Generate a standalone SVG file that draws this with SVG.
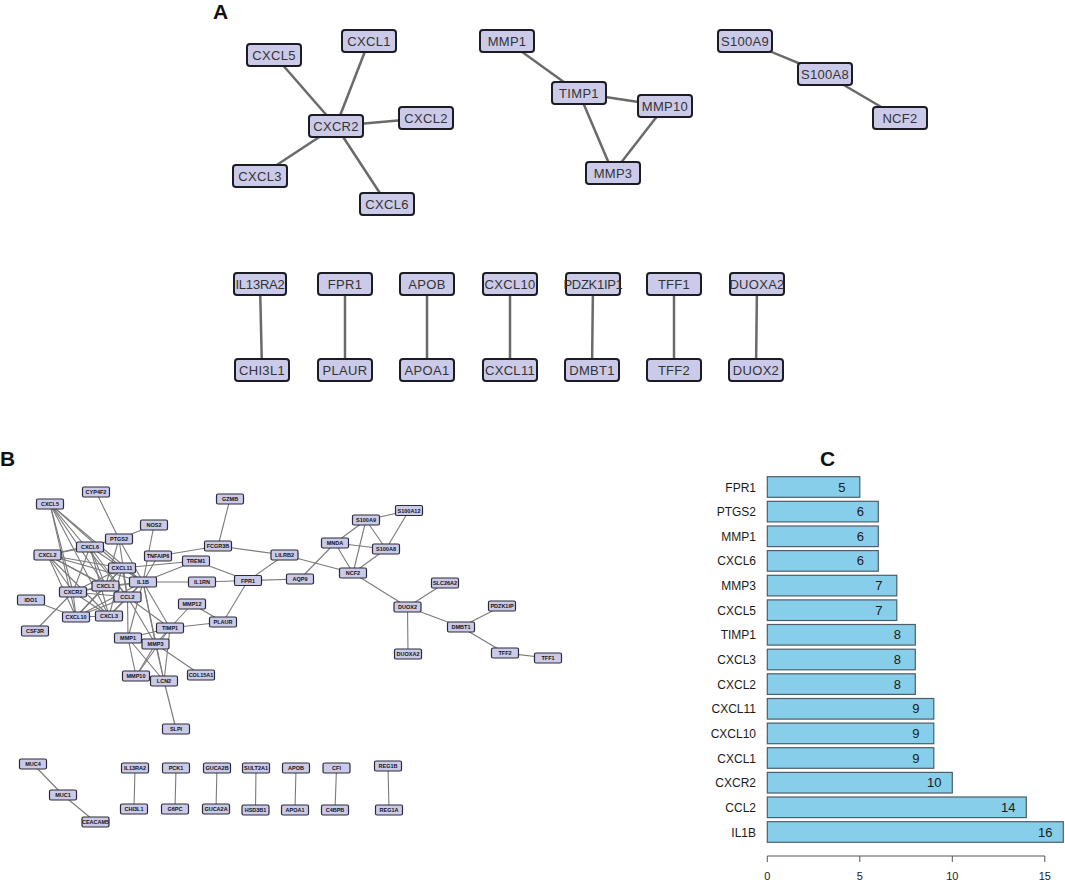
<svg xmlns="http://www.w3.org/2000/svg" width="1065" height="882" viewBox="0 0 1065 882">
<style>
.bg{fill:#fff}
.lbl{font-family:"Liberation Sans",Arial,sans-serif;font-weight:bold;font-size:21px;fill:#111}
.na rect{fill:#cbcbe9;stroke:#1c1c24;stroke-width:2}
.na text{font-family:"Liberation Sans",Arial,sans-serif;font-size:13px;fill:#333;text-anchor:middle;letter-spacing:0.3px}
.nb rect{fill:#cbcbe9;stroke:#2a2a38;stroke-width:1.2}
.nb text{font-family:"Liberation Sans",Arial,sans-serif;font-size:5.5px;font-weight:bold;fill:#111;text-anchor:middle}
.ea line{stroke:#6a6a6a;stroke-width:2.5}
.eb line{stroke:#7a7a7a;stroke-width:1.1}
.bar{fill:#87ceeb;stroke:#4f5d68;stroke-width:1.2}
.val{font-family:"Liberation Sans",Arial,sans-serif;font-size:13px;fill:#1a1a1a;text-anchor:middle}
.gn{font-family:"Liberation Sans",Arial,sans-serif;font-size:12px;fill:#1a1a1a;text-anchor:end}
.tk{font-family:"Liberation Sans",Arial,sans-serif;font-size:11px;fill:#1a1a1a;text-anchor:middle}
.ax{stroke:#555;stroke-width:1;fill:none}
</style>
<rect class="bg" x="0" y="0" width="1065" height="882"/>
<text class="lbl" x="213" y="19">A</text>
<text class="lbl" x="0" y="466">B</text>
<text class="lbl" x="820" y="466">C</text>

<g id="edges-a" class="ea">
<line x1="336" y1="126" x2="274" y2="55"/>
<line x1="336" y1="126" x2="369" y2="41"/>
<line x1="336" y1="126" x2="426" y2="118"/>
<line x1="336" y1="126" x2="260" y2="176"/>
<line x1="336" y1="126" x2="387" y2="204"/>
<line x1="507" y1="41" x2="579" y2="93"/>
<line x1="579" y1="93" x2="665" y2="106"/>
<line x1="579" y1="93" x2="613" y2="173"/>
<line x1="665" y1="106" x2="613" y2="173"/>
<line x1="745" y1="41" x2="825" y2="74"/>
<line x1="825" y1="74" x2="900" y2="118"/>
<line x1="260" y1="284" x2="262" y2="370"/>
<line x1="345" y1="284" x2="345" y2="370"/>
<line x1="427" y1="284" x2="427" y2="370"/>
<line x1="510" y1="284" x2="510" y2="370"/>
<line x1="593" y1="284" x2="592" y2="370"/>
<line x1="674" y1="284" x2="674" y2="370"/>
<line x1="757" y1="284" x2="756" y2="370"/>
</g>

<g id="a-cxcl5" class="na" transform="translate(274,55)"><rect x="-27" y="-11" width="54" height="22" rx="3"/><text y="4.5">CXCL5</text></g>
<g id="a-cxcl1" class="na" transform="translate(369,41)"><rect x="-27" y="-11" width="54" height="22" rx="3"/><text y="4.5">CXCL1</text></g>
<g id="a-cxcr2" class="na" transform="translate(336,126)"><rect x="-27" y="-11" width="54" height="22" rx="3"/><text y="4.5">CXCR2</text></g>
<g id="a-cxcl2" class="na" transform="translate(426,118)"><rect x="-27" y="-11" width="54" height="22" rx="3"/><text y="4.5">CXCL2</text></g>
<g id="a-cxcl3" class="na" transform="translate(260,176)"><rect x="-27" y="-11" width="54" height="22" rx="3"/><text y="4.5">CXCL3</text></g>
<g id="a-cxcl6" class="na" transform="translate(387,204)"><rect x="-27" y="-11" width="54" height="22" rx="3"/><text y="4.5">CXCL6</text></g>
<g id="a-mmp1" class="na" transform="translate(507,41)"><rect x="-27" y="-11" width="54" height="22" rx="3"/><text y="4.5">MMP1</text></g>
<g id="a-timp1" class="na" transform="translate(579,93)"><rect x="-27" y="-11" width="54" height="22" rx="3"/><text y="4.5">TIMP1</text></g>
<g id="a-mmp10" class="na" transform="translate(665,106)"><rect x="-27" y="-11" width="54" height="22" rx="3"/><text y="4.5">MMP10</text></g>
<g id="a-mmp3" class="na" transform="translate(613,173)"><rect x="-27" y="-11" width="54" height="22" rx="3"/><text y="4.5">MMP3</text></g>
<g id="a-s100a9" class="na" transform="translate(745,41)"><rect x="-27" y="-11" width="54" height="22" rx="3"/><text y="4.5">S100A9</text></g>
<g id="a-s100a8" class="na" transform="translate(825,74)"><rect x="-27" y="-11" width="54" height="22" rx="3"/><text y="4.5">S100A8</text></g>
<g id="a-ncf2" class="na" transform="translate(900,118)"><rect x="-27" y="-11" width="54" height="22" rx="3"/><text y="4.5">NCF2</text></g>
<g id="a-il13ra2" class="na" transform="translate(260,284)"><rect x="-26" y="-11" width="52" height="22" rx="3"/><text y="4.5" style="letter-spacing:-0.2px">IL13RA2</text></g>
<g id="a-fpr1" class="na" transform="translate(345,284)"><rect x="-27" y="-11" width="54" height="22" rx="3"/><text y="4.5">FPR1</text></g>
<g id="a-apob" class="na" transform="translate(427,284)"><rect x="-27" y="-11" width="54" height="22" rx="3"/><text y="4.5">APOB</text></g>
<g id="a-cxcl10" class="na" transform="translate(510,284)"><rect x="-27" y="-11" width="54" height="22" rx="3"/><text y="4.5">CXCL10</text></g>
<g id="a-pdzk1ip1" class="na" transform="translate(593,284)"><rect x="-27" y="-11" width="54" height="22" rx="3"/><text y="4.5" style="letter-spacing:-0.3px">PDZK1IP1</text></g>
<g id="a-tff1" class="na" transform="translate(674,284)"><rect x="-27" y="-11" width="54" height="22" rx="3"/><text y="4.5">TFF1</text></g>
<g id="a-duoxa2" class="na" transform="translate(757,284)"><rect x="-27" y="-11" width="54" height="22" rx="3"/><text y="4.5">DUOXA2</text></g>
<g id="a-chi3l1" class="na" transform="translate(262,370)"><rect x="-27" y="-11" width="54" height="22" rx="3"/><text y="4.5">CHI3L1</text></g>
<g id="a-plaur" class="na" transform="translate(345,370)"><rect x="-27" y="-11" width="54" height="22" rx="3"/><text y="4.5">PLAUR</text></g>
<g id="a-apoa1" class="na" transform="translate(427,370)"><rect x="-27" y="-11" width="54" height="22" rx="3"/><text y="4.5">APOA1</text></g>
<g id="a-cxcl11" class="na" transform="translate(510,370)"><rect x="-27" y="-11" width="54" height="22" rx="3"/><text y="4.5">CXCL11</text></g>
<g id="a-dmbt1" class="na" transform="translate(592,370)"><rect x="-27" y="-11" width="54" height="22" rx="3"/><text y="4.5">DMBT1</text></g>
<g id="a-tff2" class="na" transform="translate(674,370)"><rect x="-27" y="-11" width="54" height="22" rx="3"/><text y="4.5">TFF2</text></g>
<g id="a-duox2" class="na" transform="translate(756,370)"><rect x="-27" y="-11" width="54" height="22" rx="3"/><text y="4.5">DUOX2</text></g>

<g id="edges-b" class="eb">
<line x1="119" y1="539" x2="96" y2="492"/>
<line x1="119" y1="539" x2="154" y2="525"/>
<line x1="154" y1="525" x2="143" y2="582"/>
<line x1="158" y1="556" x2="143" y2="582"/>
<line x1="158" y1="556" x2="218" y2="546"/>
<line x1="230" y1="499" x2="218" y2="546"/>
<line x1="218" y1="546" x2="284.5" y2="555"/>
<line x1="196" y1="561" x2="143" y2="582"/>
<line x1="196" y1="561" x2="122" y2="568"/>
<line x1="196" y1="561" x2="248" y2="580.5"/>
<line x1="143" y1="582" x2="202" y2="582"/>
<line x1="202" y1="582" x2="248" y2="580.5"/>
<line x1="248" y1="580.5" x2="284.5" y2="555"/>
<line x1="248" y1="580.5" x2="300" y2="579"/>
<line x1="248" y1="580.5" x2="223" y2="622"/>
<line x1="284.5" y1="555" x2="353" y2="573"/>
<line x1="300" y1="579" x2="335" y2="543"/>
<line x1="335" y1="543" x2="366" y2="520"/>
<line x1="335" y1="543" x2="386" y2="549"/>
<line x1="335" y1="543" x2="353" y2="573"/>
<line x1="366" y1="520" x2="409" y2="510.5"/>
<line x1="366" y1="520" x2="386" y2="549"/>
<line x1="366" y1="520" x2="353" y2="573"/>
<line x1="409" y1="510.5" x2="386" y2="549"/>
<line x1="386" y1="549" x2="353" y2="573"/>
<line x1="353" y1="573" x2="407.5" y2="607"/>
<line x1="407.5" y1="607" x2="445" y2="583"/>
<line x1="407.5" y1="607" x2="461" y2="627"/>
<line x1="407.5" y1="607" x2="408" y2="654"/>
<line x1="461" y1="627" x2="502" y2="606"/>
<line x1="461" y1="627" x2="505" y2="653"/>
<line x1="505" y1="653" x2="548" y2="658"/>
<line x1="223" y1="622" x2="192" y2="604"/>
<line x1="223" y1="622" x2="170" y2="628"/>
<line x1="192" y1="604" x2="170" y2="628"/>
<line x1="170" y1="628" x2="128" y2="638"/>
<line x1="170" y1="628" x2="155.5" y2="644"/>
<line x1="170" y1="628" x2="136" y2="676"/>
<line x1="170" y1="628" x2="164" y2="681"/>
<line x1="170" y1="628" x2="143" y2="582"/>
<line x1="170" y1="628" x2="127.5" y2="597"/>
<line x1="155.5" y1="644" x2="128" y2="638"/>
<line x1="155.5" y1="644" x2="136" y2="676"/>
<line x1="155.5" y1="644" x2="164" y2="681"/>
<line x1="155.5" y1="644" x2="201" y2="675"/>
<line x1="155.5" y1="644" x2="143" y2="582"/>
<line x1="155.5" y1="644" x2="127.5" y2="597"/>
<line x1="128" y1="638" x2="136" y2="676"/>
<line x1="128" y1="638" x2="164" y2="681"/>
<line x1="128" y1="638" x2="143" y2="582"/>
<line x1="128" y1="638" x2="127.5" y2="597"/>
<line x1="164" y1="681" x2="176" y2="729"/>
<line x1="164" y1="681" x2="143" y2="582"/>
<line x1="31" y1="600" x2="76" y2="617"/>
<line x1="35" y1="631" x2="73" y2="592"/>
<line x1="50" y1="504" x2="73" y2="592"/>
<line x1="50" y1="504" x2="105.5" y2="586"/>
<line x1="50" y1="504" x2="109" y2="616"/>
<line x1="50" y1="504" x2="76" y2="617"/>
<line x1="50" y1="504" x2="127.5" y2="597"/>
<line x1="50" y1="504" x2="143" y2="582"/>
<line x1="50" y1="504" x2="122" y2="568"/>
<line x1="90" y1="547" x2="47.5" y2="555"/>
<line x1="90" y1="547" x2="73" y2="592"/>
<line x1="90" y1="547" x2="105.5" y2="586"/>
<line x1="90" y1="547" x2="143" y2="582"/>
<line x1="90" y1="547" x2="127.5" y2="597"/>
<line x1="90" y1="547" x2="109" y2="616"/>
<line x1="47.5" y1="555" x2="73" y2="592"/>
<line x1="47.5" y1="555" x2="105.5" y2="586"/>
<line x1="47.5" y1="555" x2="122" y2="568"/>
<line x1="47.5" y1="555" x2="143" y2="582"/>
<line x1="47.5" y1="555" x2="127.5" y2="597"/>
<line x1="47.5" y1="555" x2="109" y2="616"/>
<line x1="47.5" y1="555" x2="76" y2="617"/>
<line x1="47.5" y1="555" x2="119" y2="539"/>
<line x1="73" y1="592" x2="105.5" y2="586"/>
<line x1="73" y1="592" x2="109" y2="616"/>
<line x1="73" y1="592" x2="76" y2="617"/>
<line x1="73" y1="592" x2="122" y2="568"/>
<line x1="73" y1="592" x2="143" y2="582"/>
<line x1="73" y1="592" x2="127.5" y2="597"/>
<line x1="105.5" y1="586" x2="143" y2="582"/>
<line x1="105.5" y1="586" x2="127.5" y2="597"/>
<line x1="105.5" y1="586" x2="122" y2="568"/>
<line x1="105.5" y1="586" x2="76" y2="617"/>
<line x1="105.5" y1="586" x2="119" y2="539"/>
<line x1="76" y1="617" x2="122" y2="568"/>
<line x1="76" y1="617" x2="127.5" y2="597"/>
<line x1="76" y1="617" x2="143" y2="582"/>
<line x1="76" y1="617" x2="109" y2="616"/>
<line x1="122" y1="568" x2="143" y2="582"/>
<line x1="122" y1="568" x2="127.5" y2="597"/>
<line x1="122" y1="568" x2="109" y2="616"/>
<line x1="109" y1="616" x2="143" y2="582"/>
<line x1="109" y1="616" x2="127.5" y2="597"/>
<line x1="127.5" y1="597" x2="143" y2="582"/>
<line x1="119" y1="539" x2="143" y2="582"/>
<line x1="119" y1="539" x2="127.5" y2="597"/>
<line x1="33" y1="764" x2="63" y2="795"/>
<line x1="63" y1="795" x2="95.5" y2="822"/>
<line x1="135" y1="768" x2="134" y2="809"/>
<line x1="176" y1="768" x2="175" y2="809"/>
<line x1="217" y1="768" x2="216" y2="809"/>
<line x1="256" y1="768" x2="255.5" y2="810"/>
<line x1="296" y1="768" x2="295" y2="810"/>
<line x1="336.5" y1="768" x2="335" y2="810"/>
<line x1="388" y1="766" x2="389" y2="810"/>
</g>

<g id="b-cyp4f2" class="nb" transform="translate(96,492)"><rect x="-13.5" y="-5" width="27" height="10" rx="1.5"/><text y="2">CYP4F2</text></g>
<g id="b-cxcl5" class="nb" transform="translate(50,504)"><rect x="-13.5" y="-5" width="27" height="10" rx="1.5"/><text y="2">CXCL5</text></g>
<g id="b-nos2" class="nb" transform="translate(154,525)"><rect x="-13.5" y="-5" width="27" height="10" rx="1.5"/><text y="2">NOS2</text></g>
<g id="b-ptgs2" class="nb" transform="translate(119,539)"><rect x="-13.5" y="-5" width="27" height="10" rx="1.5"/><text y="2">PTGS2</text></g>
<g id="b-cxcl6" class="nb" transform="translate(90,547)"><rect x="-13.5" y="-5" width="27" height="10" rx="1.5"/><text y="2">CXCL6</text></g>
<g id="b-cxcl2" class="nb" transform="translate(47.5,555)"><rect x="-13.5" y="-5" width="27" height="10" rx="1.5"/><text y="2">CXCL2</text></g>
<g id="b-tnfaip6" class="nb" transform="translate(158,556)"><rect x="-13.5" y="-5" width="27" height="10" rx="1.5"/><text y="2">TNFAIP6</text></g>
<g id="b-cxcl11" class="nb" transform="translate(122,568)"><rect x="-13.5" y="-5" width="27" height="10" rx="1.5"/><text y="2">CXCL11</text></g>
<g id="b-il1b" class="nb" transform="translate(143,582)"><rect x="-13.5" y="-5" width="27" height="10" rx="1.5"/><text y="2">IL1B</text></g>
<g id="b-cxcl1" class="nb" transform="translate(105.5,586)"><rect x="-13.5" y="-5" width="27" height="10" rx="1.5"/><text y="2">CXCL1</text></g>
<g id="b-cxcr2" class="nb" transform="translate(73,592)"><rect x="-13.5" y="-5" width="27" height="10" rx="1.5"/><text y="2">CXCR2</text></g>
<g id="b-ccl2" class="nb" transform="translate(127.5,597)"><rect x="-13.5" y="-5" width="27" height="10" rx="1.5"/><text y="2">CCL2</text></g>
<g id="b-ido1" class="nb" transform="translate(31,600)"><rect x="-13.5" y="-5" width="27" height="10" rx="1.5"/><text y="2">IDO1</text></g>
<g id="b-cxcl10" class="nb" transform="translate(76,617)"><rect x="-13.5" y="-5" width="27" height="10" rx="1.5"/><text y="2">CXCL10</text></g>
<g id="b-cxcl3" class="nb" transform="translate(109,616)"><rect x="-13.5" y="-5" width="27" height="10" rx="1.5"/><text y="2">CXCL3</text></g>
<g id="b-csf3r" class="nb" transform="translate(35,631)"><rect x="-13.5" y="-5" width="27" height="10" rx="1.5"/><text y="2">CSF3R</text></g>
<g id="b-gzmb" class="nb" transform="translate(230,499)"><rect x="-13.5" y="-5" width="27" height="10" rx="1.5"/><text y="2">GZMB</text></g>
<g id="b-fcgr3b" class="nb" transform="translate(218,546)"><rect x="-13.5" y="-5" width="27" height="10" rx="1.5"/><text y="2">FCGR3B</text></g>
<g id="b-trem1" class="nb" transform="translate(196,561)"><rect x="-13.5" y="-5" width="27" height="10" rx="1.5"/><text y="2">TREM1</text></g>
<g id="b-lilrb2" class="nb" transform="translate(284.5,555)"><rect x="-13.5" y="-5" width="27" height="10" rx="1.5"/><text y="2">LILRB2</text></g>
<g id="b-mnda" class="nb" transform="translate(335,543)"><rect x="-13.5" y="-5" width="27" height="10" rx="1.5"/><text y="2">MNDA</text></g>
<g id="b-il1rn" class="nb" transform="translate(202,582)"><rect x="-13.5" y="-5" width="27" height="10" rx="1.5"/><text y="2">IL1RN</text></g>
<g id="b-fpr1" class="nb" transform="translate(248,580.5)"><rect x="-13.5" y="-5" width="27" height="10" rx="1.5"/><text y="2">FPR1</text></g>
<g id="b-aqp9" class="nb" transform="translate(300,579)"><rect x="-13.5" y="-5" width="27" height="10" rx="1.5"/><text y="2">AQP9</text></g>
<g id="b-mmp12" class="nb" transform="translate(192,604)"><rect x="-13.5" y="-5" width="27" height="10" rx="1.5"/><text y="2">MMP12</text></g>
<g id="b-s100a12" class="nb" transform="translate(409,510.5)"><rect x="-13.5" y="-5" width="27" height="10" rx="1.5"/><text y="2">S100A12</text></g>
<g id="b-s100a9" class="nb" transform="translate(366,520)"><rect x="-13.5" y="-5" width="27" height="10" rx="1.5"/><text y="2">S100A9</text></g>
<g id="b-s100a8" class="nb" transform="translate(386,549)"><rect x="-13.5" y="-5" width="27" height="10" rx="1.5"/><text y="2">S100A8</text></g>
<g id="b-ncf2" class="nb" transform="translate(353,573)"><rect x="-13.5" y="-5" width="27" height="10" rx="1.5"/><text y="2">NCF2</text></g>
<g id="b-slc26a2" class="nb" transform="translate(445,583)"><rect x="-13.5" y="-5" width="27" height="10" rx="1.5"/><text y="2">SLC26A2</text></g>
<g id="b-duox2" class="nb" transform="translate(407.5,607)"><rect x="-13.5" y="-5" width="27" height="10" rx="1.5"/><text y="2">DUOX2</text></g>
<g id="b-pdzk1ip" class="nb" transform="translate(502,606)"><rect x="-13.5" y="-5" width="27" height="10" rx="1.5"/><text y="2">PDZK1IP</text></g>
<g id="b-dmbt1" class="nb" transform="translate(461,627)"><rect x="-13.5" y="-5" width="27" height="10" rx="1.5"/><text y="2">DMBT1</text></g>
<g id="b-duoxa2" class="nb" transform="translate(408,654)"><rect x="-13.5" y="-5" width="27" height="10" rx="1.5"/><text y="2">DUOXA2</text></g>
<g id="b-tff2" class="nb" transform="translate(505,653)"><rect x="-13.5" y="-5" width="27" height="10" rx="1.5"/><text y="2">TFF2</text></g>
<g id="b-tff1" class="nb" transform="translate(548,658)"><rect x="-13.5" y="-5" width="27" height="10" rx="1.5"/><text y="2">TFF1</text></g>
<g id="b-plaur" class="nb" transform="translate(223,622)"><rect x="-13.5" y="-5" width="27" height="10" rx="1.5"/><text y="2">PLAUR</text></g>
<g id="b-timp1" class="nb" transform="translate(170,628)"><rect x="-13.5" y="-5" width="27" height="10" rx="1.5"/><text y="2">TIMP1</text></g>
<g id="b-mmp1" class="nb" transform="translate(128,638)"><rect x="-13.5" y="-5" width="27" height="10" rx="1.5"/><text y="2">MMP1</text></g>
<g id="b-mmp3" class="nb" transform="translate(155.5,644)"><rect x="-13.5" y="-5" width="27" height="10" rx="1.5"/><text y="2">MMP3</text></g>
<g id="b-mmp10" class="nb" transform="translate(136,676)"><rect x="-13.5" y="-5" width="27" height="10" rx="1.5"/><text y="2">MMP10</text></g>
<g id="b-lcn2" class="nb" transform="translate(164,681)"><rect x="-13.5" y="-5" width="27" height="10" rx="1.5"/><text y="2">LCN2</text></g>
<g id="b-col15a1" class="nb" transform="translate(201,675)"><rect x="-13.5" y="-5" width="27" height="10" rx="1.5"/><text y="2">COL15A1</text></g>
<g id="b-slpi" class="nb" transform="translate(176,729)"><rect x="-13.5" y="-5" width="27" height="10" rx="1.5"/><text y="2">SLPI</text></g>
<g id="b-muc4" class="nb" transform="translate(33,764)"><rect x="-13.5" y="-5" width="27" height="10" rx="1.5"/><text y="2">MUC4</text></g>
<g id="b-muc1" class="nb" transform="translate(63,795)"><rect x="-13.5" y="-5" width="27" height="10" rx="1.5"/><text y="2">MUC1</text></g>
<g id="b-ceacam5" class="nb" transform="translate(95.5,822)"><rect x="-13.5" y="-5" width="27" height="10" rx="1.5"/><text y="2">CEACAM5</text></g>
<g id="b-il13ra2" class="nb" transform="translate(135,768)"><rect x="-13.5" y="-5" width="27" height="10" rx="1.5"/><text y="2">IL13RA2</text></g>
<g id="b-chi3l1" class="nb" transform="translate(134,809)"><rect x="-13.5" y="-5" width="27" height="10" rx="1.5"/><text y="2">CHI3L1</text></g>
<g id="b-pck1" class="nb" transform="translate(176,768)"><rect x="-13.5" y="-5" width="27" height="10" rx="1.5"/><text y="2">PCK1</text></g>
<g id="b-g6pc" class="nb" transform="translate(175,809)"><rect x="-13.5" y="-5" width="27" height="10" rx="1.5"/><text y="2">G6PC</text></g>
<g id="b-guca2b" class="nb" transform="translate(217,768)"><rect x="-13.5" y="-5" width="27" height="10" rx="1.5"/><text y="2">GUCA2B</text></g>
<g id="b-guca2a" class="nb" transform="translate(216,809)"><rect x="-13.5" y="-5" width="27" height="10" rx="1.5"/><text y="2">GUCA2A</text></g>
<g id="b-sult2a1" class="nb" transform="translate(256,768)"><rect x="-13.5" y="-5" width="27" height="10" rx="1.5"/><text y="2">SULT2A1</text></g>
<g id="b-hsd3b1" class="nb" transform="translate(255.5,810)"><rect x="-13.5" y="-5" width="27" height="10" rx="1.5"/><text y="2">HSD3B1</text></g>
<g id="b-apob" class="nb" transform="translate(296,768)"><rect x="-13.5" y="-5" width="27" height="10" rx="1.5"/><text y="2">APOB</text></g>
<g id="b-apoa1" class="nb" transform="translate(295,810)"><rect x="-13.5" y="-5" width="27" height="10" rx="1.5"/><text y="2">APOA1</text></g>
<g id="b-cfi" class="nb" transform="translate(336.5,768)"><rect x="-13.5" y="-5" width="27" height="10" rx="1.5"/><text y="2">CFI</text></g>
<g id="b-c4bpb" class="nb" transform="translate(335,810)"><rect x="-13.5" y="-5" width="27" height="10" rx="1.5"/><text y="2">C4BPB</text></g>
<g id="b-reg1b" class="nb" transform="translate(388,766)"><rect x="-13.5" y="-5" width="27" height="10" rx="1.5"/><text y="2">REG1B</text></g>
<g id="b-reg1a" class="nb" transform="translate(389,810)"><rect x="-13.5" y="-5" width="27" height="10" rx="1.5"/><text y="2">REG1A</text></g>

<g id="chart-c">
<rect class="bar" x="767.3" y="476.7" width="92.5" height="20.6"/>
<rect class="bar" x="767.3" y="501.3" width="111" height="20.6"/>
<rect class="bar" x="767.3" y="526.0" width="111" height="20.6"/>
<rect class="bar" x="767.3" y="550.6" width="111" height="20.6"/>
<rect class="bar" x="767.3" y="575.3" width="129.5" height="20.6"/>
<rect class="bar" x="767.3" y="599.9" width="129.5" height="20.6"/>
<rect class="bar" x="767.3" y="624.5" width="148" height="20.6"/>
<rect class="bar" x="767.3" y="649.2" width="148" height="20.6"/>
<rect class="bar" x="767.3" y="673.8" width="148" height="20.6"/>
<rect class="bar" x="767.3" y="698.5" width="166.5" height="20.6"/>
<rect class="bar" x="767.3" y="723.1" width="166.5" height="20.6"/>
<rect class="bar" x="767.3" y="747.7" width="166.5" height="20.6"/>
<rect class="bar" x="767.3" y="772.4" width="185" height="20.6"/>
<rect class="bar" x="767.3" y="797.0" width="259" height="20.6"/>
<rect class="bar" x="767.3" y="821.7" width="296" height="20.6"/>
<text class="val" x="841.8" y="491.5">5</text>
<text class="val" x="860.3" y="516.1">6</text>
<text class="val" x="860.3" y="540.8">6</text>
<text class="val" x="860.3" y="565.4">6</text>
<text class="val" x="878.8" y="590.1">7</text>
<text class="val" x="878.8" y="614.7">7</text>
<text class="val" x="897.3" y="639.3">8</text>
<text class="val" x="897.3" y="664.0">8</text>
<text class="val" x="897.3" y="688.6">8</text>
<text class="val" x="915.8" y="713.3">9</text>
<text class="val" x="915.8" y="737.9">9</text>
<text class="val" x="915.8" y="762.5">9</text>
<text class="val" x="934.3" y="787.2">10</text>
<text class="val" x="1008.3" y="811.8">14</text>
<text class="val" x="1045.3" y="836.5">16</text>
<text class="gn" x="756" y="491.5">FPR1</text>
<text class="gn" x="756" y="516.1">PTGS2</text>
<text class="gn" x="756" y="540.8">MMP1</text>
<text class="gn" x="756" y="565.4">CXCL6</text>
<text class="gn" x="756" y="590.1">MMP3</text>
<text class="gn" x="756" y="614.7">CXCL5</text>
<text class="gn" x="756" y="639.3">TIMP1</text>
<text class="gn" x="756" y="664.0">CXCL3</text>
<text class="gn" x="756" y="688.6">CXCL2</text>
<text class="gn" x="756" y="713.3">CXCL11</text>
<text class="gn" x="756" y="737.9">CXCL10</text>
<text class="gn" x="756" y="762.5">CXCL1</text>
<text class="gn" x="756" y="787.2">CXCR2</text>
<text class="gn" x="756" y="811.8">CCL2</text>
<text class="gn" x="756" y="836.5">IL1B</text>
<path class="ax" d="M767.3,856H1044.8M767.3,856V862M859.8,856V862M952.3,856V862M1044.8,856V862"/>
<text class="tk" x="767.3" y="880">0</text>
<text class="tk" x="859.8" y="880">5</text>
<text class="tk" x="952.3" y="880">10</text>
<text class="tk" x="1044.8" y="880">15</text>
</g>
</svg>
